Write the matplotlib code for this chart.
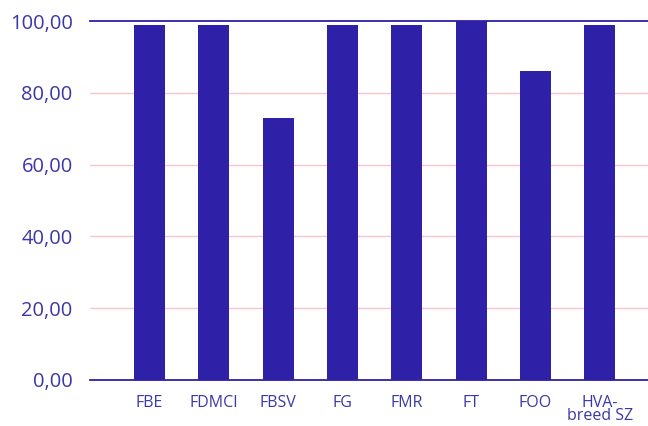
import matplotlib
matplotlib.use("Agg")
import matplotlib.pyplot as plt

categories = ["FBE", "FDMCI", "FBSV", "FG", "FMR", "FT", "FOO", "HVA-\nbreed SZ"]
values = [99, 99, 73, 99, 99, 100, 86, 99]
yticks = [0, 20, 40, 60, 80, 100]
ytick_labels = ["0,00", "20,00", "40,00", "60,00", "80,00", "100,00"]

bar_color = "#2e21a8"
text_color = "#3b37a8"
grid_color = "#f7c5cd"

plt.rcParams['font.family'] = ['Open Sans', 'DejaVu Sans']

fig = plt.figure(figsize=(6.48, 4.26), dpi=100)
ax = fig.add_axes([90/648, 46/426, 1 - 90/648, (380-21)/426])

x = list(range(len(categories)))
ax.bar(x, values, width=0.48, color=bar_color, zorder=3)

ax.set_xlim(-0.925, 7.75)
ax.set_ylim(0, 100)
ax.set_yticks(yticks)
ax.set_yticklabels(ytick_labels, fontsize=14.5, color=text_color)
ax.set_xticks(x)
ax.set_xticklabels(categories, fontsize=11.5, color=text_color, linespacing=0.75, va="top")

for y in [20, 40, 60, 80]:
    ax.axhline(y, color=grid_color, linewidth=1, zorder=1)
ax.axhline(100, color=bar_color, linewidth=1.3, zorder=2, clip_on=False)

for s in ["top", "right", "left"]:
    ax.spines[s].set_visible(False)
ax.spines["bottom"].set_color(bar_color)
ax.spines["bottom"].set_linewidth(1.3)
ax.spines["bottom"].set_zorder(4)

ax.tick_params(axis="y", length=0, pad=12.5)
ax.tick_params(axis="x", length=0, pad=11)

fig.savefig("out.png", dpi=100)
